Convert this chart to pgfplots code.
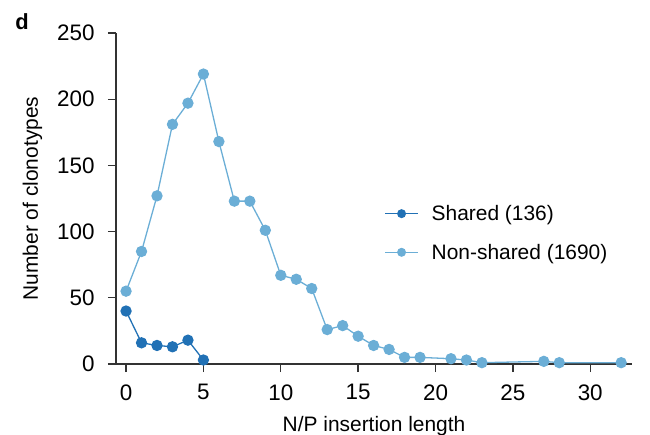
\documentclass[border=0pt]{standalone}
\usepackage{pgfplots}
\pgfplotsset{compat=1.18}
\usepackage{fontspec}
\setmainfont{Liberation Sans}
\definecolor{shared}{HTML}{2171B5}
\definecolor{nonshared}{HTML}{6BAED6}
\begin{document}
\begin{tikzpicture}
\path[use as bounding box] (-116bp,-71bp) rectangle (534bp,364bp);
\begin{axis}[
  scale only axis, width=516bp, height=331bp,
  xmin=-0.65, xmax=32.7, ymin=0, ymax=250,
  axis lines=left, axis line style={-, line width=1.3bp, black!80},
  tick style={line width=1.3bp, black!80},
  tick align=outside, major tick length=8bp,
  xtick={0,5,...,30}, ytick={0,50,...,250},
  /pgf/number format/assume math mode=true,
  tick label style={font=\fontsize{22.5}{26}\selectfont},
  yticklabel style={xshift=-10bp},
  xticklabel style={yshift=-9bp},
  label style={font=\fontsize{21}{25}\selectfont},
  xlabel={N/P insertion length}, ylabel={Number of clonotypes},
  xlabel style={at={(axis description cs:0.5,-0.2054)}, anchor=base},
  ylabel style={at={(axis description cs:-0.1512,0.5)}, anchor=base},
  legend style={draw=none, fill=none, at={(0.514,0.492)}, anchor=north west,
    font=\fontsize{21}{25}\selectfont, row sep=18bp, column sep=11bp, cells={anchor=west}},
  legend image code/.code={\draw[mark repeat=2,mark phase=2,mark size=3.8bp] plot coordinates {(0bp,0bp)(16.5bp,0bp)(33bp,0bp)};},
]
\addplot[shared, line width=1.3bp, mark=*, mark size=5bp] coordinates {
(0,40) (1,16) (2,14) (3,13) (4,18) (5,3)};
\addlegendentry{Shared (136)}
\addplot[nonshared, line width=1.3bp, mark=*, mark size=5bp] coordinates {
(0,55) (1,85) (2,127) (3,181) (4,197) (5,219) (6,168) (7,123) (8,123) (9,101)
(10,67) (11,64) (12,57) (13,26) (14,29) (15,21) (16,14) (17,11) (18,5) (19,5)
(21,4) (22,3) (23,1) (27,2) (28,1) (32,1)};
\addlegendentry{Non-shared (1690)}
\end{axis}
\node[font=\fontsize{22}{26}\selectfont\bfseries] at (-94bp,342bp) {d};
\end{tikzpicture}
\end{document}
